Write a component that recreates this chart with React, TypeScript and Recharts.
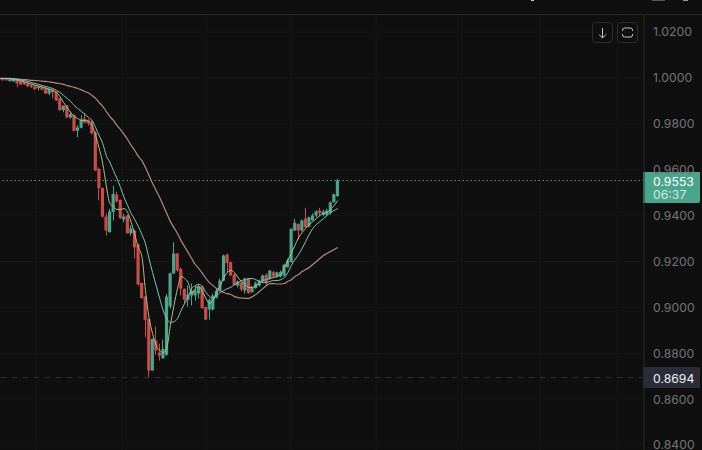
import React from "react";
import { ComposedChart, Bar, Line, XAxis, YAxis, CartesianGrid, ReferenceLine } from "recharts";

const opens = [0.9998,0.9997,0.9997,0.9986,0.9985,0.9995,0.9986,0.9983,0.9976,0.997,0.9966,0.9956,0.996,0.9956,0.9932,0.9947,0.994,0.9911,0.986,0.9881,0.9828,0.984,0.977,0.9783,0.9823,0.9818,0.981,0.9762,0.9604,0.952,0.9396,0.9328,0.9415,0.9492,0.9469,0.9383,0.9401,0.9323,0.9335,0.9274,0.9107,0.9047,0.895,0.8725,0.8856,0.8803,0.8778,0.8794,0.9004,0.9148,0.9235,0.9168,0.9081,0.9033,0.9052,0.9052,0.906,0.9092,0.9001,0.8991,0.8991,0.9042,0.9073,0.9117,0.923,0.9197,0.9143,0.9095,0.9108,0.9073,0.9125,0.9066,0.9084,0.9095,0.9114,0.9142,0.9125,0.9153,0.9135,0.9135,0.9139,0.9175,0.9197,0.9335,0.9364,0.9335,0.9387,0.9353,0.938,0.9401,0.9422,0.9404,0.9404,0.9412,0.9458,0.9485];
const highs = [0.9999,0.9998,0.9998,0.9998,0.9996,0.9996,0.9989,0.9985,0.998,0.9974,0.9967,0.9965,0.9963,0.9959,0.9954,0.995,0.9941,0.9911,0.988,0.9882,0.9854,0.9841,0.9793,0.9838,0.9847,0.9821,0.9815,0.9767,0.961,0.9523,0.9409,0.943,0.9531,0.9505,0.947,0.9409,0.9405,0.9357,0.9339,0.9278,0.9108,0.905,0.8951,0.8864,0.8917,0.8842,0.886,0.9059,0.9152,0.9284,0.9237,0.9174,0.9082,0.9095,0.9104,0.9095,0.9104,0.9095,0.9004,0.9039,0.906,0.9082,0.9126,0.923,0.9235,0.92,0.9148,0.9117,0.9113,0.913,0.9126,0.9095,0.9113,0.9121,0.9143,0.9149,0.9161,0.9161,0.9156,0.9161,0.9191,0.9213,0.9344,0.9386,0.9366,0.9383,0.9434,0.9396,0.9409,0.9424,0.9434,0.9427,0.943,0.9462,0.9496,0.9561];
const lows = [0.9994,0.9989,0.9989,0.9985,0.9985,0.996,0.9969,0.9969,0.9959,0.9956,0.9948,0.9946,0.9946,0.993,0.9925,0.9912,0.99,0.9856,0.985,0.9826,0.9823,0.9767,0.9741,0.978,0.9802,0.9792,0.9756,0.9595,0.9466,0.939,0.9313,0.9326,0.9379,0.9457,0.9387,0.9371,0.9322,0.9313,0.9213,0.9095,0.9039,0.887,0.8694,0.8723,0.8794,0.8768,0.8777,0.879,0.8995,0.9145,0.9156,0.9052,0.9017,0.9004,0.9008,0.903,0.9039,0.8995,0.8945,0.8947,0.8986,0.9039,0.9069,0.9113,0.9152,0.9137,0.9095,0.9087,0.9069,0.906,0.906,0.9065,0.9082,0.9091,0.9108,0.91,0.9121,0.9129,0.913,0.913,0.9135,0.9174,0.9196,0.9333,0.9296,0.9331,0.9348,0.9348,0.9379,0.9393,0.9397,0.9397,0.9396,0.9404,0.9457,0.9483];
const closes = [0.9995,0.999,0.999,0.9995,0.9993,0.9976,0.9972,0.9972,0.9964,0.9962,0.9951,0.9963,0.9949,0.9932,0.9953,0.9937,0.9902,0.986,0.9879,0.9828,0.9842,0.977,0.9784,0.982,0.9806,0.9802,0.9758,0.9597,0.952,0.9396,0.9335,0.9418,0.9495,0.9462,0.9389,0.9396,0.9323,0.9345,0.9262,0.91,0.904,0.8946,0.8725,0.8863,0.8812,0.879,0.8819,0.9047,0.9149,0.9235,0.9161,0.9082,0.9034,0.9056,0.9073,0.9073,0.9091,0.8996,0.8947,0.9033,0.9052,0.9073,0.9117,0.9226,0.9193,0.9139,0.9098,0.9113,0.9078,0.9125,0.9062,0.9088,0.9105,0.9117,0.9139,0.9107,0.9161,0.9135,0.9153,0.9153,0.9186,0.9204,0.9343,0.9369,0.9335,0.9379,0.9349,0.9393,0.9401,0.9418,0.9411,0.9418,0.9422,0.9458,0.9493,0.9553];
const maShort = [0.9998,0.9998,0.9998,0.9997,0.9993,0.9991,0.9987,0.9983,0.9978,0.9974,0.9969,0.9965,0.9961,0.9956,0.9952,0.9946,0.9937,0.9919,0.9893,0.9871,0.985,0.9832,0.9823,0.9815,0.9815,0.981,0.9793,0.9749,0.9693,0.9627,0.9531,0.9453,0.944,0.9427,0.9427,0.9431,0.9414,0.937,0.9318,0.9261,0.9222,0.9073,0.8956,0.8886,0.8834,0.8812,0.8803,0.8825,0.8921,0.9008,0.9082,0.9135,0.9126,0.9108,0.906,0.9082,0.9091,0.9069,0.9039,0.9017,0.903,0.9065,0.9095,0.913,0.9152,0.9161,0.9152,0.913,0.9113,0.91,0.9087,0.9087,0.9095,0.9104,0.9117,0.9121,0.9126,0.913,0.9135,0.9143,0.9174,0.9204,0.9239,0.927,0.9304,0.9326,0.9344,0.9361,0.9374,0.9387,0.9401,0.9409,0.9414,0.9427,0.9444,0.9466];
const maMid = [0.9998,0.9998,0.9998,0.9997,0.9996,0.9993,0.9991,0.9989,0.9985,0.998,0.9976,0.9972,0.9967,0.9963,0.9959,0.9954,0.9946,0.9937,0.9924,0.9911,0.9898,0.988,0.9867,0.9854,0.9841,0.9828,0.9815,0.9784,0.9749,0.9714,0.9662,0.9632,0.9597,0.9562,0.9523,0.9479,0.9444,0.9409,0.9383,0.9353,0.9318,0.9278,0.9213,0.9152,0.9095,0.9039,0.8986,0.8951,0.8934,0.8938,0.8951,0.8986,0.9017,0.9047,0.9082,0.9095,0.91,0.9091,0.9065,0.9047,0.9039,0.9052,0.9065,0.9073,0.9082,0.9087,0.91,0.9108,0.9117,0.9121,0.9126,0.9126,0.9121,0.9113,0.9108,0.9108,0.9113,0.9117,0.9117,0.9121,0.913,0.9152,0.9183,0.9209,0.923,0.9257,0.9287,0.9318,0.9344,0.9361,0.9374,0.9387,0.9401,0.9414,0.9422,0.9431];
const maLong = [0.9998,0.9998,0.9998,0.9998,0.9997,0.9996,0.9994,0.9993,0.9992,0.999,0.9989,0.9988,0.9986,0.9985,0.9983,0.9981,0.9978,0.9975,0.9972,0.9967,0.9963,0.9959,0.9954,0.9948,0.9941,0.9935,0.9924,0.9911,0.9893,0.9876,0.9854,0.9832,0.9815,0.9793,0.9775,0.9754,0.9732,0.9706,0.9684,0.9658,0.964,0.961,0.9575,0.954,0.951,0.9479,0.9444,0.9409,0.9374,0.9348,0.9322,0.9291,0.9265,0.9239,0.9213,0.9187,0.9169,0.9148,0.9126,0.9108,0.9095,0.9082,0.9073,0.9065,0.906,0.9056,0.9047,0.9043,0.9041,0.9039,0.9039,0.9047,0.9056,0.9069,0.9082,0.9095,0.9104,0.9104,0.9102,0.9102,0.9104,0.9113,0.9121,0.9135,0.9143,0.9156,0.9165,0.9174,0.9187,0.92,0.9213,0.9226,0.9235,0.9244,0.9252,0.9261];

const priceTicks = [1.02, 1.0, 0.98, 0.96, 0.94, 0.92, 0.9, 0.88, 0.86, 0.84];
const currentPrice = 0.9553;
const currentLabel = "0.9553";
const countdownLabel = "06:37";
const lowPrice = 0.8694;
const lowLabel = "0.8694";
const gridIndexes = [10.25, 34.4, 58.3, 81.9, 105.8, 129.9, 151.8, 173.5];

const rows = opens.map((open, i) => ({
  i,
  open,
  high: highs[i],
  low: lows[i],
  close: closes[i],
  range: [lows[i], highs[i]],
  maShort: maShort[i],
  maMid: maMid[i],
  maLong: maLong[i],
}));

const BG = "#0f0f0f";
const UP = "#4aa58d";
const DOWN = "#cb4a4a";
const FONT = "Inter, sans-serif";
const TAG_LEFT = 643;

function Candle(props: any) {
  const { x, width, y, height, payload } = props;
  const top = Math.min(y, y + height);
  const h = Math.abs(height);
  const span = payload.high - payload.low || 1;
  const toY = (v: number) => top + ((payload.high - v) / span) * h;
  const up = payload.close >= payload.open;
  const color = up ? UP : DOWN;
  const cx = x + width / 2;
  const bt = toY(Math.max(payload.open, payload.close));
  const bb = toY(Math.min(payload.open, payload.close));
  return (
    <g>
      <rect x={Math.round(cx - 0.5)} y={top} width={1} height={Math.max(h, 1)} fill={color} />
      <rect x={cx - 1.6} y={bt} width={3.2} height={Math.max(bb - bt, 1)} fill={color} />
    </g>
  );
}

function CurrentTag(props: any) {
  const y = props.viewBox.y;
  return (
    <g fontFamily={FONT} fontSize={12.25}>
      <path d={`M${TAG_LEFT} ${y - 8.5}H700V${y + 20.5}a2 2 0 0 1 -2 2H${TAG_LEFT}Z`} fill={UP} />
      <text x={TAG_LEFT + 10} y={y + 5} fill="#ffffff">{currentLabel}</text>
      <text x={TAG_LEFT + 10} y={y + 18.5} fill="#cfe8e0">{countdownLabel}</text>
    </g>
  );
}

function LowTag(props: any) {
  const y = props.viewBox.y;
  return (
    <g fontFamily={FONT} fontSize={12.25}>
      <path d={`M${TAG_LEFT} ${y - 10.5}H698a2 2 0 0 1 2 2V${y + 10.5}H${TAG_LEFT}Z`} fill="#2a2d39" />
      <text x={TAG_LEFT + 10} y={y + 5} fill="#f0f0f0">{lowLabel}</text>
    </g>
  );
}

function ButtonBox({ left, children }: { left: number; children: React.ReactNode }) {
  return (
    <div style={{ position: "absolute", left, top: 22, width: 19, height: 19, border: "1px solid #2d2d33", borderRadius: 4 }}>
      <svg width={19} height={19} fill="none" stroke="#c8c8c8" strokeWidth={1}>
        {children}
      </svg>
    </div>
  );
}

export default function App() {
  return (
    <div style={{ position: "fixed", left: 0, top: 0, width: 702, height: 450, background: BG, overflow: "hidden" }}>
      <ComposedChart width={702} height={450} data={rows} margin={{ top: 15, right: 0, bottom: 0, left: 0 }}>
        <CartesianGrid stroke="#171717" strokeWidth={1} verticalValues={gridIndexes} horizontalValues={priceTicks} />
        <XAxis dataKey="i" type="number" domain={[0.14, 181.04]} hide allowDataOverflow />
        <YAxis
          orientation="right"
          width={58}
          domain={[0.83784, 1.02746]}
          ticks={priceTicks}
          interval={0}
          allowDataOverflow
          tickFormatter={(v: number) => v.toFixed(4)}
          tickLine={false}
          axisLine={{ stroke: "#2a2a2a" }}
          tickMargin={3}
          tick={{ fill: "#747474", fontSize: 12.25, fontFamily: FONT, textAnchor: "start" }}
        />
        <Bar dataKey="range" barSize={3} shape={<Candle />} isAnimationActive={false} />
        <Line dataKey="maLong" type="monotone" stroke="#b48686" strokeWidth={1.2} dot={false} isAnimationActive={false} />
        <Line dataKey="maShort" type="monotone" stroke="#a9c086" strokeWidth={1} dot={false} isAnimationActive={false} />
        <Line dataKey="maMid" type="monotone" stroke="#7cc7b5" strokeWidth={1} dot={false} isAnimationActive={false} />
        <ReferenceLine y={currentPrice} stroke={UP} strokeWidth={1} strokeDasharray="1.5 2.5" label={<CurrentTag />} />
        <ReferenceLine y={lowPrice} stroke="#333333" strokeDasharray="5 6" label={<LowTag />} />
      </ComposedChart>
      <div style={{ position: "absolute", left: 0, top: 14, width: 702, height: 1, background: "#2a2a2a" }} />
      <ButtonBox left={592}>
        <path d="M9.5 5V15M6 11.5L9.5 15L13 11.5" />
      </ButtonBox>
      <ButtonBox left={617}>
        <path d="M4.5 8V7Q4.5 5 6.5 5H12.5Q14.5 5 14.5 7V8M4.5 11V12Q4.5 14 6.5 14H12.5Q14.5 14 14.5 12V11" />
      </ButtonBox>
      <div style={{ position: "absolute", left: 531, top: 0, width: 3, height: 1, background: "#cccccc" }} />
      <div style={{ position: "absolute", left: 652, top: 0, width: 13, height: 1, background: "#555555" }} />
      <div style={{ position: "absolute", left: 683, top: 0, width: 5, height: 1, background: "#999999" }} />
    </div>
  );
}
